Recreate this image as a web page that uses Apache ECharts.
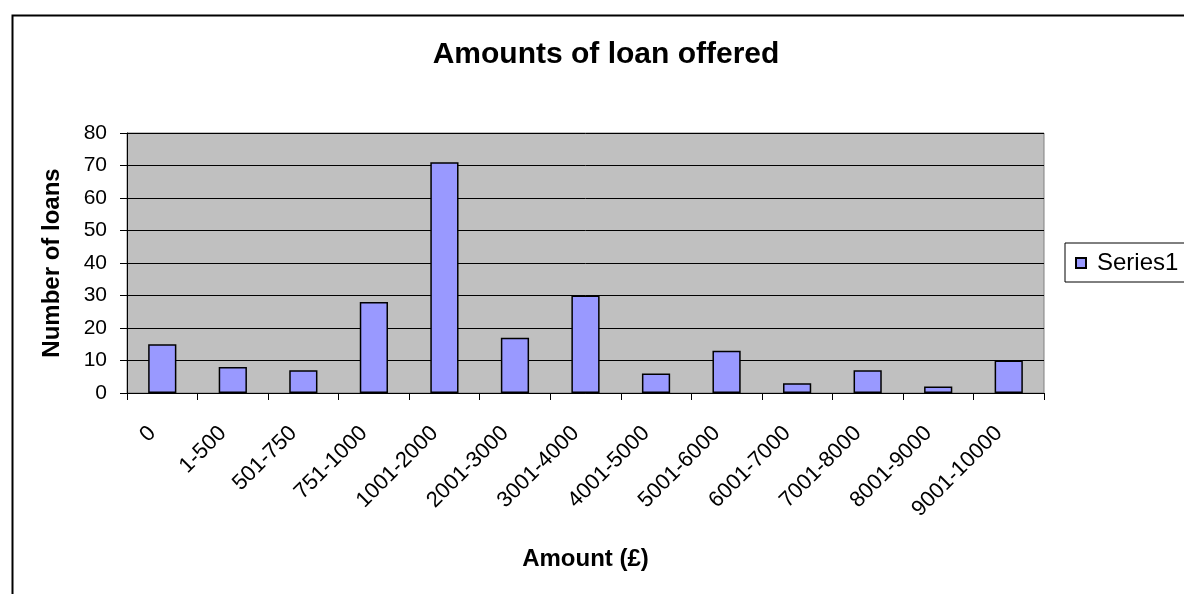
<!DOCTYPE html>
<html>
<head>
<meta charset="utf-8">
<script src="https://cdn.jsdelivr.net/npm/echarts@6/dist/echarts.min.js"></script>
<style>
html,body{margin:0;padding:0;background:#fff;}
#chart{width:1184px;height:594px;}
</style>
</head>
<body>
<div id="chart"></div>
<script>
const categories = ['0','1-500','501-750','751-1000','1001-2000','2001-3000','3001-4000','4001-5000','5001-6000','6001-7000','7001-8000','8001-9000','9001-10000'];
const series1 = [15, 8, 7, 28, 71, 17, 30, 6, 13, 3, 7, 2, 10];
const yTicks = {min: 0, max: 80, interval: 10};

const FONT = '"Liberation Sans", Arial, sans-serif';
const chart = echarts.init(document.getElementById('chart'));
chart.setOption({
  animation: false,
  backgroundColor: '#ffffff',
  graphic: [{
    type: 'rect', left: 10, top: 13, silent: true, z: 100,
    shape: {x: 0, y: 0, width: 1300, height: 800},
    style: {fill: 'none', stroke: '#000', lineWidth: 2}
  }],
  title: {
    text: 'Amounts of loan offered',
    left: 601, top: 35, textAlign: 'center',
    textStyle: {fontFamily: FONT, fontSize: 30, fontWeight: 'bold', color: '#000'}
  },
  legend: {
    show: true,
    left: 1065, top: 243,
    orient: 'vertical',
    padding: [8, 40, 7, 10],
    borderColor: '#000', borderWidth: 1,
    itemWidth: 10, itemHeight: 10, itemGap: 5,
    icon: 'rect',
    textStyle: {fontFamily: FONT, fontSize: 24, color: '#000', padding: [0, 0, 0, 6]},
    data: ['Series1']
  },
  grid: {
    left: 127, top: 133, right: 140, bottom: 201,
    show: true, backgroundColor: '#C0C0C0', borderColor: '#808080', borderWidth: 1,
    containLabel: false
  },
  xAxis: {
    type: 'category',
    data: categories,
    name: 'Amount (£)',
    nameLocation: 'middle',
    nameGap: 154,
    nameTextStyle: {fontFamily: FONT, fontSize: 24, fontWeight: 'bold', color: '#000'},
    axisLine: {lineStyle: {color: '#000', width: 1}},
    axisTick: {show: true, length: 7, lineStyle: {color: '#000'}, alignWithLabel: false},
    axisLabel: {rotate: 45, margin: 27, interval: 0, padding: [0, 14, 8, 0], fontFamily: FONT, fontSize: 22, color: '#000'},
    splitLine: {show: false}
  },
  yAxis: {
    type: 'value',
    min: yTicks.min, max: yTicks.max, interval: yTicks.interval,
    name: 'Number of loans',
    nameLocation: 'middle',
    nameGap: 63,
    nameTextStyle: {fontFamily: FONT, fontSize: 24, fontWeight: 'bold', color: '#000'},
    axisLine: {show: true, lineStyle: {color: '#000', width: 1}},
    axisTick: {show: true, length: 7, inside: false, lineStyle: {color: '#000'}},
    axisLabel: {margin: 20, fontFamily: FONT, fontSize: 21, color: '#000'},
    splitLine: {show: true, lineStyle: {color: '#000', width: 1}}
  },
  series: [{
    name: 'Series1',
    type: 'bar',
    data: series1,
    barCategoryGap: '60%',
    itemStyle: {color: '#9999FF', borderColor: '#000', borderWidth: 1.5}
  }]
});
</script>
</body>
</html>
